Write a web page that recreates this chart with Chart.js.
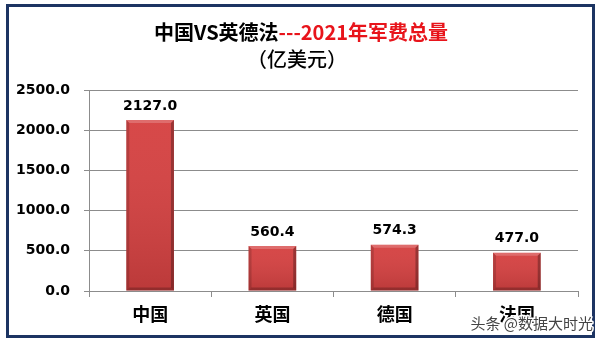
<!DOCTYPE html>
<html lang="zh">

<head>
  <meta charset="UTF-8">
  <title>中国VS英德法---2021年军费总量</title>
  <script src="https://cdn.jsdelivr.net/npm/chart.js"></script>
  <style>
    body {
      margin: 0;
      background: #fff;
    }
  </style>
</head>

<body>
  <canvas id="spendChart" width="602" height="342"></canvas>

  <script>
    // Countries and their 2021 military spending (100 million USD)
    const countries = ['中国', '英国', '德国', '法国'];
    const spending = [2127.0, 560.4, 574.3, 477.0];
    const yMin = 0;
    const yMax = 2500;
    const yStep = 500;

    const cjkFont = '"Noto Sans CJK SC", sans-serif';
    const numFont = '"DejaVu Sans", sans-serif';
    const gridGray = '#8c8c8c';

    // White page, title, frame and watermark
    const decorations = {
      id: 'decorations',
      beforeDraw(chart) {
        const ctx = chart.ctx;
        ctx.save();
        ctx.fillStyle = '#fff';
        ctx.fillRect(0, 0, chart.width, chart.height);
        ctx.restore();
      },
      afterDraw(chart) {
        const ctx = chart.ctx;
        ctx.save();

        // two-colour first title line
        const parts = [
          { text: '中国VS英德法', color: '#000' },
          { text: '---2021年军费总量', color: '#e8141b' }
        ];
        ctx.font = 'bold 20px ' + cjkFont;
        ctx.textBaseline = 'middle';
        ctx.textAlign = 'left';
        const total = parts.reduce((w, p) => w + ctx.measureText(p.text).width, 0);
        let x = 301 - total / 2;
        parts.forEach(p => {
          ctx.fillStyle = p.color;
          ctx.fillText(p.text, x, 32);
          x += ctx.measureText(p.text).width;
        });

        ctx.font = '500 20px ' + cjkFont;
        ctx.fillStyle = '#000';
        ctx.textAlign = 'center';
        ctx.fillText('（亿美元）', 297, 59);

        // frame
        ctx.strokeStyle = '#1c3462';
        ctx.lineWidth = 3;
        ctx.strokeRect(7.5, 5.5, 586, 331);

        // watermark
        ctx.font = '15px ' + cjkFont;
        ctx.textAlign = 'right';
        ctx.lineJoin = 'round';
        ctx.strokeStyle = '#fff';
        ctx.lineWidth = 3;
        ctx.strokeText('头条 @数据大时光', 593, 323);
        ctx.fillStyle = '#444';
        ctx.fillText('头条 @数据大时光', 593, 323);
        ctx.restore();
      }
    };

    // Bevelled shading and value labels over each bar
    const barStyle = {
      id: 'barStyle',
      afterDatasetsDraw(chart) {
        const ctx = chart.ctx;
        const meta = chart.getDatasetMeta(0);
        ctx.save();
        meta.data.forEach((bar, i) => {
          const { x, y, width, base } = bar.getProps(['x', 'y', 'width', 'base'], true);
          const l = x - width / 2, r = x + width / 2, t = y, b = base;
          const e = 3;

          const shade = ctx.createLinearGradient(0, t, 0, b);
          shade.addColorStop(0, 'rgba(255,255,255,0.04)');
          shade.addColorStop(1, 'rgba(0,0,0,0.12)');
          ctx.fillStyle = shade;
          ctx.fillRect(l, t, width, b - t);

          const poly = (pts, color) => {
            ctx.beginPath();
            ctx.moveTo(pts[0][0], pts[0][1]);
            pts.slice(1).forEach(p => ctx.lineTo(p[0], p[1]));
            ctx.closePath();
            ctx.fillStyle = color;
            ctx.fill();
          };
          poly([[l, t], [r, t], [r - e, t + e], [l + e, t + e]], 'rgba(255,255,255,0.2)');
          poly([[l, t], [l + e, t + e], [l + e, b - e], [l, b]], 'rgba(0,0,0,0.15)');
          poly([[r, t], [r - e, t + e], [r - e, b - e], [r, b]], 'rgba(0,0,0,0.28)');
          poly([[l, b], [l + e, b - e], [r - e, b - e], [r, b]], 'rgba(0,0,0,0.22)');

          ctx.font = 'bold 14px ' + numFont;
          ctx.fillStyle = '#000';
          ctx.textAlign = 'center';
          ctx.textBaseline = 'bottom';
          ctx.fillText(spending[i].toFixed(1), x, t - 7);
        });
        ctx.restore();
      }
    };

    new Chart(document.getElementById('spendChart'), {
      type: 'bar',
      data: {
        labels: countries,
        datasets: [{
          data: spending,
          backgroundColor: '#d54141',
          borderWidth: 0,
          categoryPercentage: 1,
          barPercentage: 0.39
        }]
      },
      options: {
        responsive: false,
        animation: false,
        layout: {
          padding: { top: 90, right: 24, left: 0, bottom: 0 }
        },
        plugins: {
          legend: { display: false },
          tooltip: { enabled: false }
        },
        scales: {
          x: {
            grid: {
              offset: true,
              drawOnChartArea: false,
              tickLength: 6,
              color: gridGray
            },
            border: { color: gridGray },
            ticks: {
              color: '#000',
              padding: 6,
              font: { family: cjkFont, size: 18, weight: 'bold' }
            },
            afterFit(scale) { scale.height = 51; }
          },
          y: {
            min: yMin,
            max: yMax,
            grid: { color: gridGray, tickLength: 5 },
            border: { color: gridGray },
            ticks: {
              stepSize: yStep,
              color: '#000',
              padding: 14,
              font: { family: numFont, size: 14, weight: 'bold' },
              callback: v => v.toFixed(1)
            },
            afterFit(scale) { scale.width = 89; }
          }
        }
      },
      plugins: [decorations, barStyle]
    });
  </script>
</body>

</html>
